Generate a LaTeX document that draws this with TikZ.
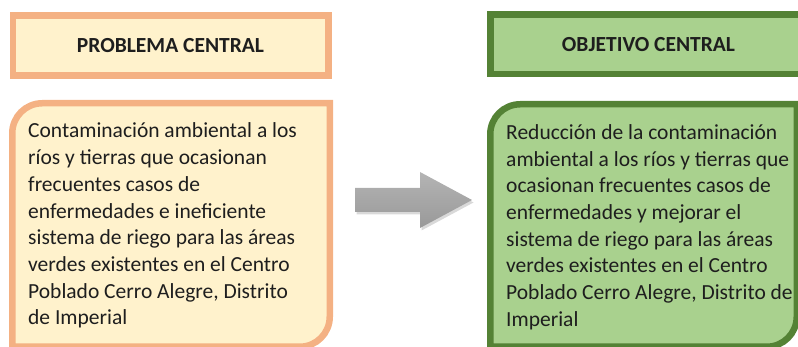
\documentclass[tikz,border=0pt]{standalone}
\usepackage{fontspec}
\setmainfont{Carlito}
\usetikzlibrary{shadows}
\definecolor{orangeB}{HTML}{F4B183}
\definecolor{orangeF}{HTML}{FFF2CC}
\definecolor{greenB}{HTML}{548235}
\definecolor{greenF}{HTML}{A9D18E}
\definecolor{textc}{HTML}{1E1E1E}
\definecolor{arrowT}{HTML}{B4B4B4}
\definecolor{arrowB}{HTML}{999999}
\tikzset{
  probbox/.style={draw=orangeB, fill=orangeF, line width=6.5pt},
  objbox/.style={draw=greenB, fill=greenF, line width=6.5pt},
  titlebox/.style={rectangle, inner sep=0pt, text=textc,
    font=\bfseries\fontsize{21.5}{26}\selectfont},
  bodytext/.style={inner sep=0pt, align=left, anchor=base west, text=textc,
    font=\fontsize{21.5}{26.7}\selectfont},
  blockarrow/.style={top color=arrowT, bottom color=arrowB, draw=none,
    drop shadow={opacity=0.3, shadow xshift=1.5pt, shadow yshift=-2.5pt}}
}
\begin{document}
\begin{tikzpicture}[x=1pt,y=1pt]
\useasboundingbox (0,0) rectangle (798,347);
\clip (0,0) rectangle (798,347);

% title boxes
\node[titlebox, probbox, minimum width=315.5pt, minimum height=60pt] (pt) at (170.5,301.25) {PROBLEMA CENTRAL};
\node[titlebox, objbox, minimum width=316.5pt, minimum height=59.5pt] (ot) at (648.5,302.5) {OBJETIVO CENTRAL};

% body boxes (top-left and bottom-right corners rounded)
\draw[probbox] (12.25,-5) -- (12.25,213.75) arc[start angle=180, end angle=90, radius=30]
  -- (329.75,243.75) -- (329.75,30.25) arc[start angle=0, end angle=-90, radius=30]
  -- (12.25,0.25) -- cycle;
\draw[objbox] (490.25,-5) -- (490.25,212.75) arc[start angle=180, end angle=90, radius=30]
  -- (796.75,242.75) -- (796.75,30.25) arc[start angle=0, end angle=-90, radius=30]
  -- (490.25,0.25) -- cycle;

\node[bodytext] (pb) at (28,22.1) {Contaminación ambiental a los\\
ríos y tierras que ocasionan\\
frecuentes casos de\\
enfermedades e ineficiente\\
sistema de riego para las áreas\\
verdes existentes en el Centro\\
Poblado Cerro Alegre, Distrito\\
de Imperial};

\node[bodytext] (ob) at (506,20.6) {Reducción de la contaminación\\
ambiental a los ríos y tierras que\\
ocasionan frecuentes casos de\\
enfermedades y mejorar el\\
sistema de riego para las áreas\\
verdes existentes en el Centro\\
Poblado Cerro Alegre, Distrito de\\
Imperial};

% arrow
\coordinate (as) at (355,147);
\coordinate (ae) at (472,147);
\path[blockarrow] ([yshift=12pt]as) -- ([xshift=-52pt,yshift=12pt]ae) -- ([xshift=-52pt,yshift=28pt]ae)
  -- (ae) -- ([xshift=-52pt,yshift=-28pt]ae) -- ([xshift=-52pt,yshift=-12pt]ae)
  -- ([yshift=-12pt]as) -- cycle;
\end{tikzpicture}
\end{document}
